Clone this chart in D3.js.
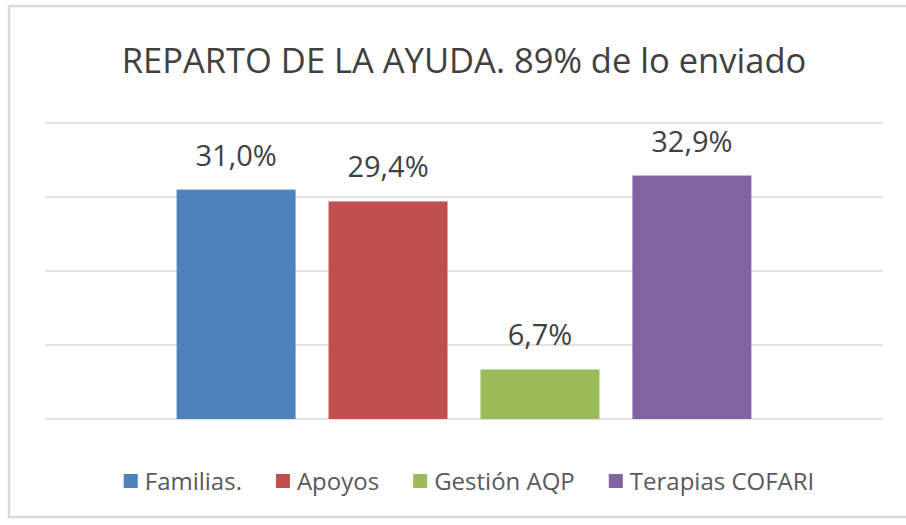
<!DOCTYPE html>
<html>
<head>
<meta charset="utf-8">
<script src="https://cdn.jsdelivr.net/npm/d3@7"></script>
<style>
  body { margin: 0; background: #fff; }
</style>
</head>
<body>
<script>
const titleText = "REPARTO DE LA AYUDA. 89% de lo enviado";
const series = ["Familias.", "Apoyos", "Gestión AQP", "Terapias COFARI"];
const values = [31.0, 29.4, 6.7, 32.9];
const colors = ["#4f81bd", "#c0504d", "#9bbb59", "#8064a2"];
const yTicks = [0, 10, 20, 30, 40];

const width = 906, height = 525;
const margin = {top: 123, right: 23, bottom: 106, left: 45};

const svg = d3.select("body").append("svg")
    .attr("width", width)
    .attr("height", height)
    .style("font-family", "'Open Sans', sans-serif");

// chart frame
svg.append("rect")
    .attr("x", 9)
    .attr("y", 6)
    .attr("width", width)
    .attr("height", 511)
    .attr("fill", "#fff")
    .attr("stroke", "#d9d9d9")
    .attr("stroke-width", 2.5);

const y = d3.scaleLinear()
    .domain([0, 40])
    .range([height - margin.bottom, margin.top]);

const x0 = d3.scaleBand()
    .domain(["grupo"])
    .range([margin.left, width - margin.right])
    .paddingOuter(0.229);

const x1 = d3.scaleBand()
    .domain(series)
    .range([0, x0.bandwidth()])
    .paddingInner(0.217);

const color = d3.scaleOrdinal().domain(series).range(colors);

svg.append("g")
  .selectAll("line")
  .data(yTicks)
  .join("line")
    .attr("x1", margin.left)
    .attr("x2", width - margin.right)
    .attr("y1", d => y(d))
    .attr("y2", d => y(d))
    .attr("stroke", "#d9d9d9")
    .attr("stroke-width", 1.5);

const g = svg.append("g")
    .attr("transform", `translate(${x0("grupo")},0)`);

const data = series.map((s, i) => ({name: s, value: values[i]}));

g.selectAll("rect")
  .data(data)
  .join("rect")
    .attr("x", d => x1(d.name))
    .attr("y", d => y(d.value))
    .attr("width", x1.bandwidth())
    .attr("height", d => y(0) - y(d.value))
    .attr("fill", d => color(d.name));

g.selectAll("text")
  .data(data)
  .join("text")
    .attr("x", d => x1(d.name) + x1.bandwidth() / 2)
    .attr("y", d => y(d.value) - 24)
    .attr("text-anchor", "middle")
    .attr("fill", "#404040")
    .style("font-size", "29px")
    .text(d => d.value.toFixed(1).replace(".", ",") + "%");

svg.append("text")
    .attr("x", 464)
    .attr("y", 73)
    .attr("text-anchor", "middle")
    .attr("fill", "#404040")
    .style("font-size", "34.5px")
    .text(titleText);

// legend
const legend = svg.append("g");
const items = legend.selectAll("g")
  .data(series)
  .join("g");

items.append("rect")
    .attr("width", 14)
    .attr("height", 14)
    .attr("y", -7)
    .attr("fill", d => color(d));

items.append("text")
    .attr("x", 21)
    .attr("y", 8.5)
    .attr("fill", "#595959")
    .style("font-size", "24px")
    .text(d => d);

let offset = 0;
const gap = 34;
items.each(function() {
  const w = this.getBBox().width;
  d3.select(this).attr("transform", `translate(${offset},481)`);
  offset += w + gap;
});
const total = offset - gap;
legend.attr("transform", `translate(${(width - total) / 2 + 16},0)`);
</script>
</body>
</html>
